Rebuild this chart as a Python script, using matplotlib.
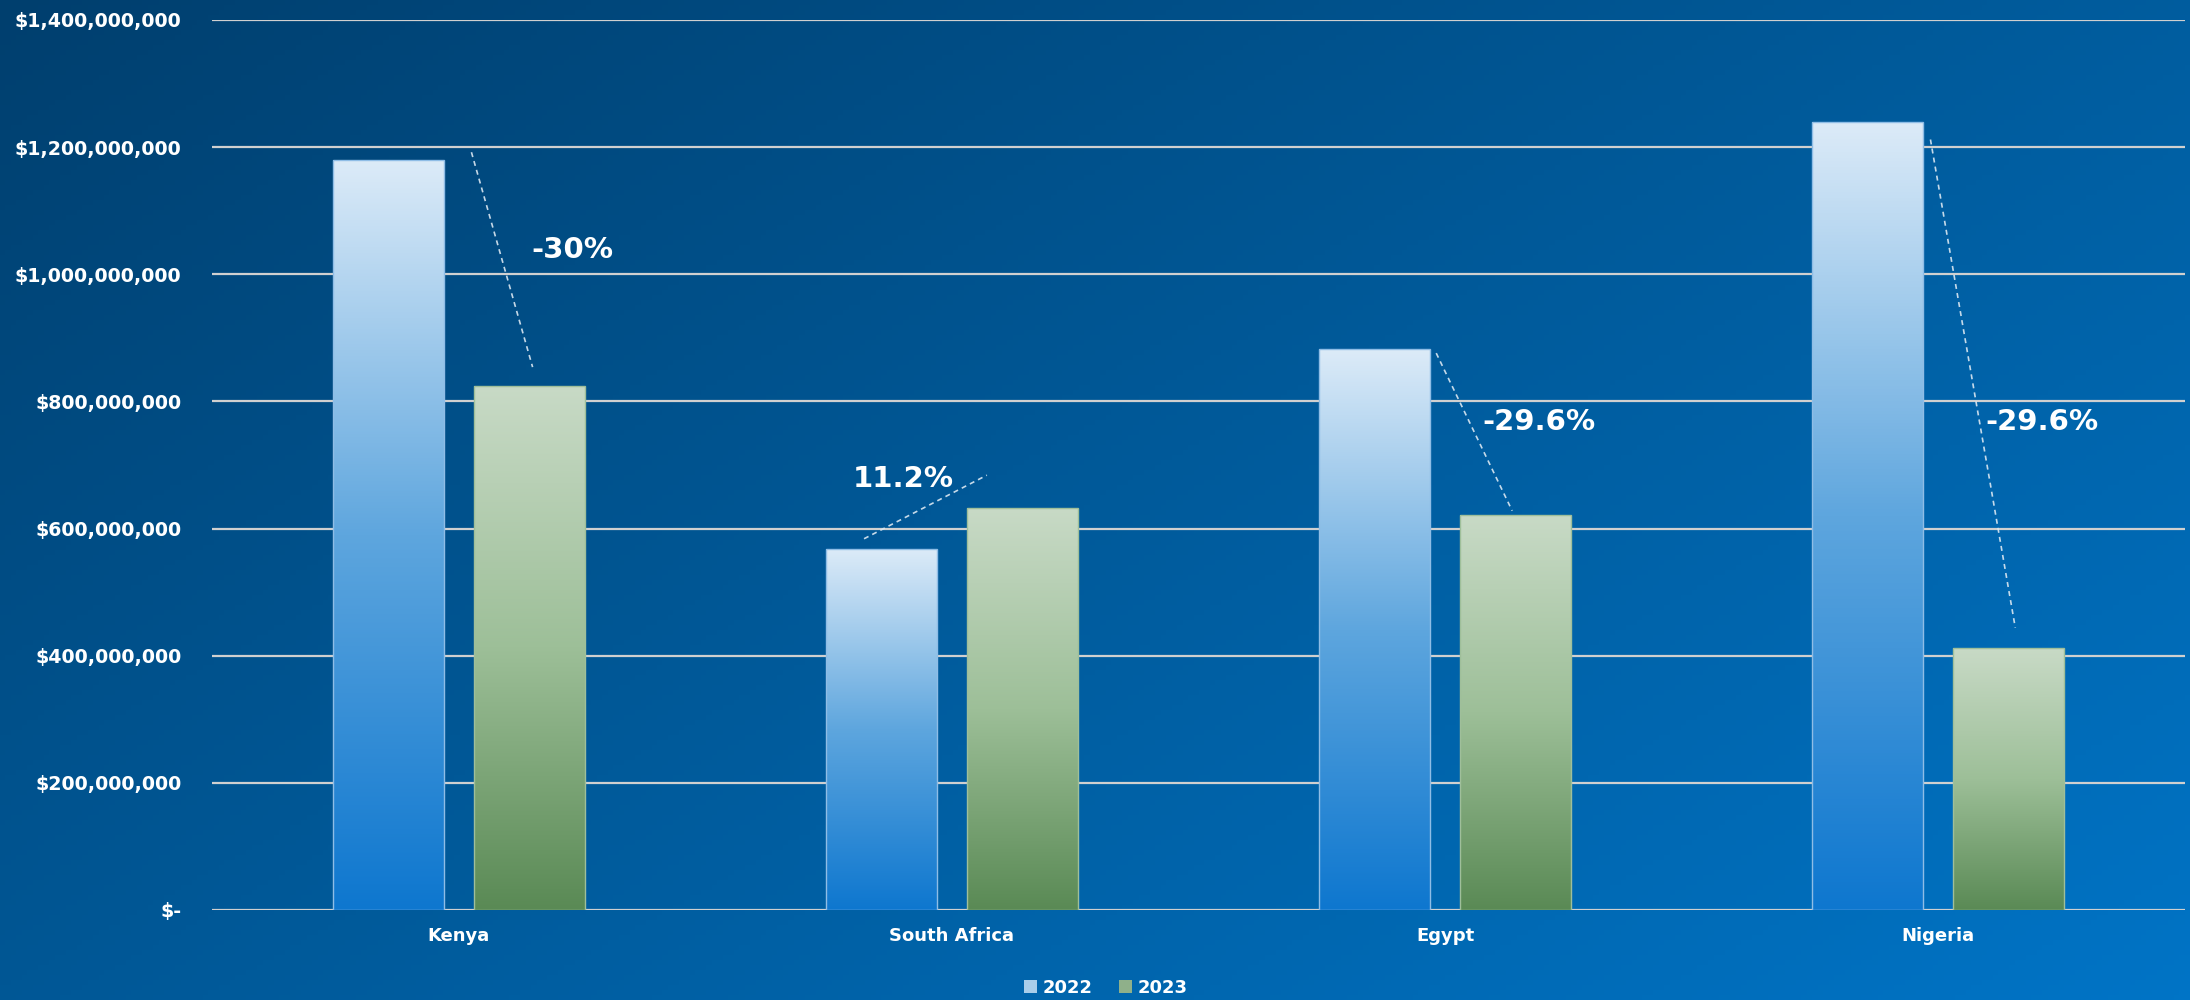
import matplotlib
matplotlib.use('Agg')
import matplotlib.pyplot as plt
import numpy as np
from matplotlib.colors import LinearSegmentedColormap
from matplotlib.patches import Patch

# data (USD)
countries = ['Kenya', 'South Africa', 'Egypt', 'Nigeria']
values_2022 = [1180e6, 568e6, 882e6, 1240e6]
values_2023 = [825e6, 632e6, 621e6, 412e6]
change_labels = ['-30%', '11.2%', '-29.6%', '-29.6%']
# dashed connector ends and label heights, as drawn in the original
conn_start = [1192e6, 584e6, 876e6, 1212e6]
conn_end = [854e6, 684e6, 628e6, 444e6]
label_y = [1038e6, 678e6, 768e6, 768e6]
yticks = [0, 200e6, 400e6, 600e6, 800e6, 1000e6, 1200e6, 1400e6]

fig = plt.figure(figsize=(21.9, 10), dpi=100)

# background gradient (dark navy top-left -> bright blue bottom-right)
bg = fig.add_axes([0, 0, 1, 1], zorder=-10)
xx, yy = np.meshgrid(np.linspace(0, 1, 400), np.linspace(0, 1, 200))
t = (xx * 0.55 + yy * 0.45)
bg_cmap = LinearSegmentedColormap.from_list('bg', ['#003f6e', '#005a9a', '#0074c6'])
bg.imshow(t, cmap=bg_cmap, aspect='auto', extent=[0, 1, 0, 1], origin='upper')
bg.set_axis_off()

ax = fig.add_axes([0.0968, 0.09, 0.9009, 0.89])
ax.set_facecolor('none')

cmap_22 = LinearSegmentedColormap.from_list('c22', ['#0e77cf', '#5ea6de', '#dcebf8'])
cmap_23 = LinearSegmentedColormap.from_list('c23', ['#5a8a55', '#9dbf98', '#c8dac6'])
grad = np.linspace(0, 1, 256).reshape(-1, 1)

x = np.arange(len(countries))
width = 0.225
off = 0.143

for vals, dx, cmap, edge in [(values_2022, -off, cmap_22, '#8fbde6'),
                              (values_2023, off, cmap_23, '#9fbf9a')]:
    bars = ax.bar(x + dx, vals, width, color='none', edgecolor=edge, linewidth=1, zorder=3)
    for b in bars:
        x0, w, h = b.get_x(), b.get_width(), b.get_height()
        im = ax.imshow(grad, cmap=cmap, aspect='auto', origin='lower',
                       extent=[x0, x0 + w, 0, h], zorder=2)
        im.set_clip_path(b)

# dashed connectors and change labels
label_dx = [0.231, -0.099, 0.19, 0.21]
start_dx = [0.026, -0.178, -0.018, -0.016]
end_dx = [0.15, 0.071, 0.136, 0.156]
for i in range(len(countries)):
    ax.plot([x[i] + start_dx[i], x[i] + end_dx[i]], [conn_start[i], conn_end[i]],
            linestyle=(0, (3, 2.5)), color='#dce8f2', linewidth=1.2, alpha=0.9, zorder=4)
    ax.text(x[i] + label_dx[i], label_y[i], change_labels[i], ha='center', va='center',
            fontsize=21, fontweight='bold', color='white', zorder=5)

ax.set_xlim(-0.5, 3.5)
ax.set_ylim(0, 1400e6)
ax.set_yticks(yticks)
ax.set_yticklabels(['$-' if v == 0 else f'${v:,.0f}' for v in yticks])
ax.set_xticks(x)
ax.set_xticklabels(countries)
ax.grid(axis='y', color='#d0d0d0', linewidth=1.6, zorder=1)
ax.set_axisbelow(True)
for s in ax.spines.values():
    s.set_visible(False)
ax.tick_params(axis='y', length=0, pad=22, labelsize=13.7, labelcolor='white')
ax.tick_params(axis='x', length=0, pad=12, labelsize=13, labelcolor='white')
for lbl in ax.get_yticklabels() + ax.get_xticklabels():
    lbl.set_fontweight('bold')

handles = [Patch(facecolor='#a9cdea', edgecolor='none', label='2022'),
           Patch(facecolor='#8fb08a', edgecolor='none', label='2023')]
fig.legend(handles=handles, loc='center', bbox_to_anchor=(0.505, 0.012), ncol=2,
           frameon=False, handlelength=0.7, handleheight=0.7, handletextpad=0.3,
           columnspacing=1.5, prop={'weight': 'bold', 'size': 13}, labelcolor='white')

plt.savefig('out.png', dpi=100)
plt.close()
